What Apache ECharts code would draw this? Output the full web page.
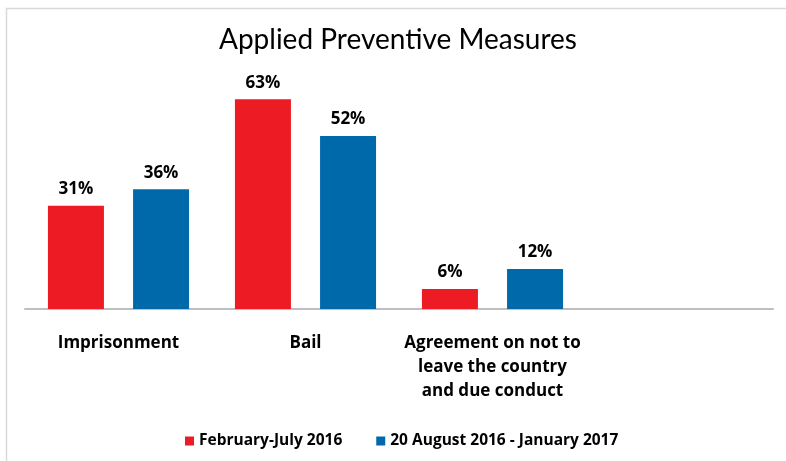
<!DOCTYPE html>
<html><head><meta charset="utf-8">
<script src="https://cdn.jsdelivr.net/npm/echarts@6/dist/echarts.min.js"></script>
<style>html,body{margin:0;padding:0;background:#fff}#c{width:786px;height:461px}</style>
</head><body><div id="c"></div>
<script>
const categories = ['Imprisonment', 'Bail', 'Agreement on not to\nleave the country\nand due conduct', ''];
const seriesNames = ['February-July 2016', '20 August 2016 - January 2017'];
const period1 = [31, 63, 6, null];
const period2 = [36, 52, 12, null];
const colors = ['#ED1C24', '#0069AA'];

const chart = echarts.init(document.getElementById('c'), null, {renderer: 'canvas'});
const labelStyle = {show: true, position: 'top', distance: 8, formatter: p => p.value + '%', fontFamily: 'Open Sans', fontWeight: 'bold', fontSize: 17, color: '#000'};
chart.setOption({
  animation: false,
  graphic: [{type: 'rect', left: 4, top: 6, shape: {width: 820, height: 520}, style: {fill: 'none', stroke: '#d9d9d9', lineWidth: 1.5}}],
  title: {text: 'Applied Preventive Measures', left: 214, top: 21, textStyle: {fontFamily: 'Lato', fontWeight: 'normal', fontSize: 28, color: '#000'}},
  legend: {bottom: 7, left: 180, itemWidth: 9, itemHeight: 9, itemGap: 34, icon: 'rect',
    textStyle: {fontFamily: 'Open Sans', fontWeight: 'bold', fontSize: 15.5, color: '#000'}},
  grid: {left: 25, right: 13, top: 76, bottom: 152},
  xAxis: {type: 'category', data: categories, axisTick: {show: false},
    axisLine: {lineStyle: {color: '#bfbfbf', width: 2}},
    axisLabel: {interval: 0, margin: 22, lineHeight: 24, fontFamily: 'Open Sans', fontWeight: 'bold', fontSize: 17, color: '#000'}},
  yAxis: {type: 'value', min: 0, max: 70, show: false, splitLine: {show: false}},
  series: [
    {name: seriesNames[0], type: 'bar', data: period1, itemStyle: {color: colors[0]}, barWidth: 56, barGap: '52%', label: labelStyle},
    {name: seriesNames[1], type: 'bar', data: period2, itemStyle: {color: colors[1]}, barWidth: 56, label: labelStyle}
  ]
});
</script></body></html>
